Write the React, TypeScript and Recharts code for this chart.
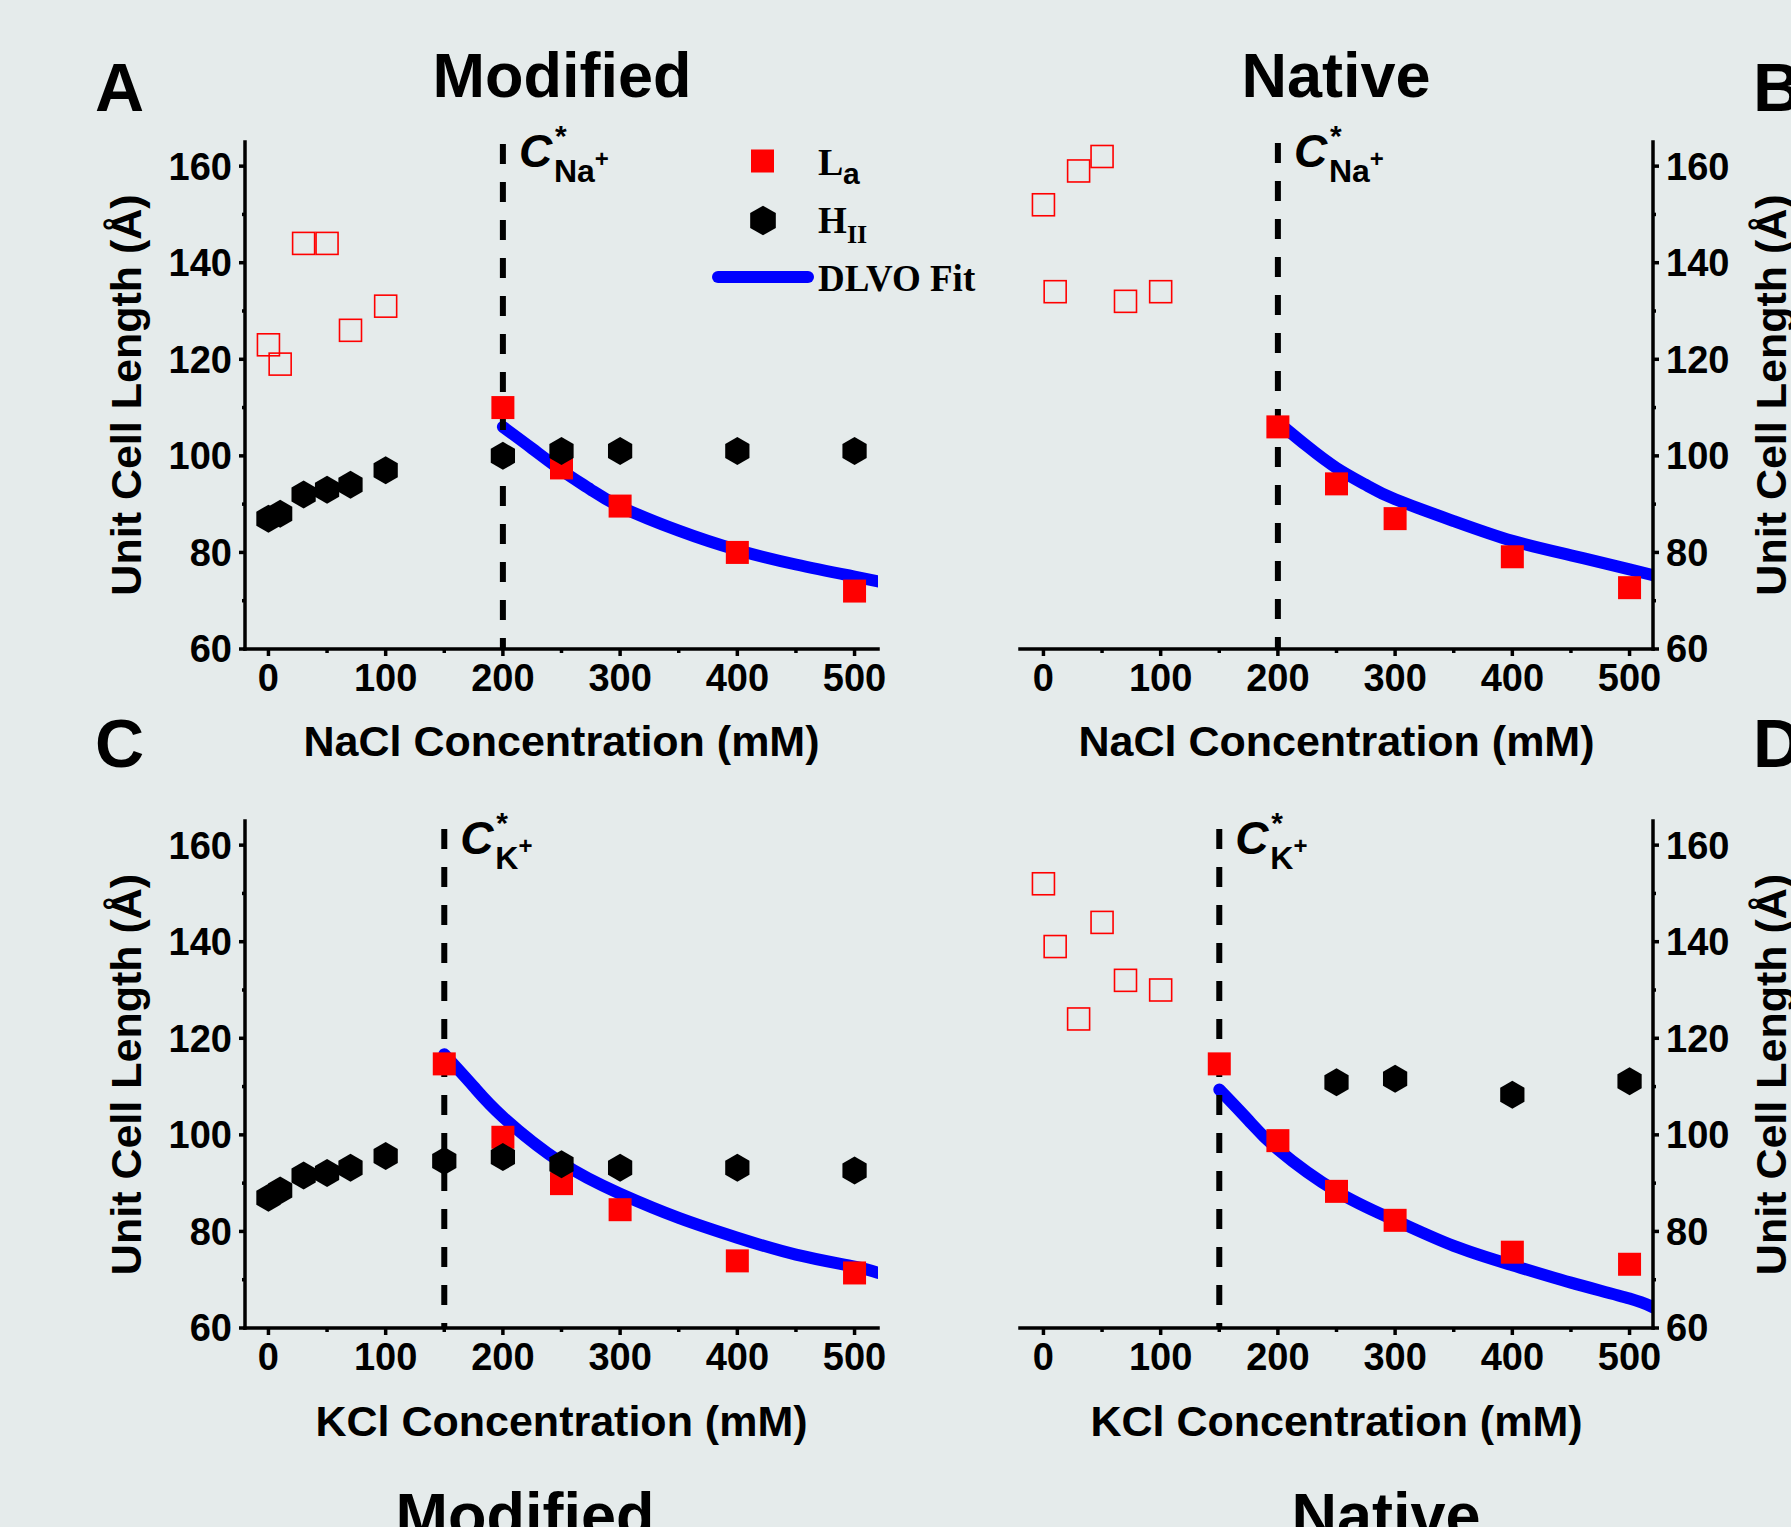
import React from "react";
import { ComposedChart, Scatter, Line, XAxis, YAxis, ReferenceLine } from "recharts";

// A: Modified, NaCl
const naclModOpenConc = [0, 10, 30, 50, 70, 100];
const naclModOpenLen = [123, 119, 144, 144, 126, 131];
const naclModLaConc = [200, 250, 300, 400, 500];
const naclModLaLen = [110, 97.5, 89.6, 80, 72];
const naclModHConc = [0, 10, 30, 50, 70, 100, 200, 250, 300, 400, 500];
const naclModHLen = [87, 88, 92, 93, 94, 97, 100, 101, 101, 101, 101];
const naclModFitConc = [200, 225, 250, 275, 300, 350, 400, 450, 500, 520];
const naclModFitLen = [106, 101.5, 97, 93, 89.5, 84.5, 80.5, 77.5, 75, 74];

// B: Native, NaCl
const naclNatOpenConc = [0, 10, 30, 50, 70, 100];
const naclNatOpenLen = [152, 134, 159, 162, 132, 134];
const naclNatLaConc = [200, 250, 300, 400, 500];
const naclNatLaLen = [106, 94.2, 87, 79.1, 72.7];
const naclNatFitConc = [200, 225, 250, 275, 300, 350, 400, 450, 500, 520];
const naclNatFitLen = [107, 102, 97.5, 94, 91, 86.5, 82.4, 79.4, 76.5, 75.3];

// C: Modified, KCl
const kclModLaConc = [150, 200, 250, 300, 400, 500];
const kclModLaLen = [114.7, 99.5, 89.9, 84.5, 73.9, 71.4];
const kclModHConc = [0, 10, 30, 50, 70, 100, 150, 200, 250, 300, 400, 500];
const kclModHLen = [87, 88.5, 91.6, 92.1, 93.2, 95.6, 94.6, 95.4, 93.9, 93.2, 93.2, 92.6];
const kclModFitConc = [150, 175, 200, 250, 300, 350, 400, 450, 500, 520];
const kclModFitLen = [116.7, 110, 103.7, 94.2, 87.8, 82.8, 78.7, 75.2, 72.7, 71.4];

// D: Native, KCl
const kclNatOpenConc = [0, 10, 30, 50, 70, 100];
const kclNatOpenLen = [152, 139, 124, 144, 132, 130];
const kclNatLaConc = [150, 200, 250, 300, 400, 500];
const kclNatLaLen = [114.7, 98.8, 88.3, 82.3, 75.7, 73.2];
const kclNatHConc = [250, 300, 400, 500];
const kclNatHLen = [110.9, 111.6, 108.3, 111.1];
const kclNatFitConc = [150, 175, 200, 250, 300, 350, 400, 450, 500, 520];
const kclNatFitLen = [109.4, 103, 97, 88.3, 82.3, 77, 73, 69.4, 66.1, 64.3];

const xTicks = [0, 50, 100, 150, 200, 250, 300, 350, 400, 450, 500];
const yTicks = [60, 70, 80, 90, 100, 110, 120, 130, 140, 150, 160];

const RED = "#ff0000";
const BLUE = "#0000ff";
const BG = "#e5ebeb";
const SANS = "'Liberation Sans', Arial, Helvetica, sans-serif";
const SERIF = "'Liberation Serif', 'Times New Roman', serif";

const zip = (xs: number[], ys: number[]) => xs.map((x, i) => ({ x, y: ys[i] }));

const FilledSquare = (p: any) => (
  <rect x={p.cx - 11.5} y={p.cy - 11.5} width={23} height={23} fill={RED} />
);
const OpenSquare = (p: any) => (
  <rect x={p.cx - 11} y={p.cy - 11} width={22} height={22} fill="none" stroke={RED} strokeWidth={1.6} />
);
const hexPoints = (cx: number, cy: number, r: number) =>
  [-90, -30, 30, 90, 150, 210]
    .map((a) => `${cx + r * Math.cos((a * Math.PI) / 180)},${cy + r * Math.sin((a * Math.PI) / 180)}`)
    .join(" ");
const Hexagon = (p: any) => <polygon points={hexPoints(p.cx, p.cy, 14)} fill="#000" />;

const XTick = (p: any) => {
  const v = p.payload.value;
  const major = v % 100 === 0;
  return (
    <g>
      <line x1={p.x} x2={p.x} y1={p.y} y2={p.y + (major ? 7 : 4)} stroke="#000" strokeWidth={3.5} />
      {major && (
        <text x={p.x} y={p.y + 15} dy="0.71em" textAnchor="middle" fontFamily={SANS} fontWeight="bold" fontSize={38} fill="#000">
          {v}
        </text>
      )}
    </g>
  );
};

const makeYTick = (side: "left" | "right") => (p: any) => {
  const v = p.payload.value;
  const major = v % 20 === 0;
  const s = side === "left" ? -1 : 1;
  return (
    <g>
      <line x1={p.x} x2={p.x + s * (major ? 6 : 3)} y1={p.y} y2={p.y} stroke="#000" strokeWidth={3.5} />
      {major && (
        <text
          x={p.x + s * 13}
          y={p.y}
          dy="0.355em"
          textAnchor={side === "left" ? "end" : "start"}
          fontFamily={SANS}
          fontWeight="bold"
          fontSize={38}
          fill="#000"
        >
          {v}
        </text>
      )}
    </g>
  );
};

const makeCStar = (ion: string, gap: number, d: number) => (p: any) => {
  const x = p.x1;
  const top = Math.min(p.y1, p.y2);
  const bottom = Math.max(p.y1, p.y2);
  return (
    <g>
      <line x1={x} x2={x} y1={top + gap} y2={bottom} stroke="#000" strokeWidth={6} strokeDasharray="20 18" />
      <text x={x + 16} y={top + 25 + d} fontFamily={SANS} fontWeight="bold" fontStyle="italic" fontSize={46} fill="#000">
        C
      </text>
      <text x={x + 52} y={top + 4 + d} fontFamily={SANS} fontWeight="bold" fontSize={30} fill="#000">
        *
      </text>
      <text x={x + 51} y={top + 40 + d} fontFamily={SANS} fontWeight="bold" fontSize={32} fill="#000">
        {ion}
        <tspan dy={-15} fontSize={24}>+</tspan>
      </text>
    </g>
  );
};

type PanelProps = {
  left: number;
  top: number;
  side: "left" | "right";
  open?: { x: number; y: number }[];
  la: { x: number; y: number }[];
  hex?: { x: number; y: number }[];
  fit: { x: number; y: number }[];
  cStar: number;
  ion: string;
  gap: number;
  d: number;
};

function Panel({ left, top, side, open, la, hex, fit, cStar, ion, gap, d }: PanelProps) {
  return (
    <div style={{ position: "absolute", left, top }}>
      <ComposedChart
        width={783}
        height={637}
        margin={{ top: 40, right: 30, bottom: 10, left: 30 }}
        style={{ overflow: "visible" }}
      >
        <XAxis
          dataKey="x"
          type="number"
          domain={[-20, 520]}
          ticks={xTicks}
          interval={0}
          height={80}
          tickSize={0}
          tickMargin={0}
          tickLine={false}
          tick={<XTick />}
          axisLine={{ stroke: "#000", strokeWidth: 3.5, strokeLinecap: "square" }}
          allowDataOverflow
        />
        <YAxis
          dataKey="y"
          type="number"
          orientation={side}
          domain={[60, 165]}
          ticks={yTicks}
          interval={0}
          width={90}
          tickSize={0}
          tickMargin={0}
          tickLine={false}
          tick={makeYTick(side)}
          axisLine={{ stroke: "#000", strokeWidth: 3.5, strokeLinecap: "square" }}
          allowDataOverflow
        />
        {open && <Scatter data={open} dataKey="y" shape={OpenSquare} isAnimationActive={false} />}
        <Scatter data={la} dataKey="y" shape={FilledSquare} isAnimationActive={false} />
        {hex && <Scatter data={hex} dataKey="y" shape={Hexagon} isAnimationActive={false} />}
        <Line
          data={fit}
          dataKey="y"
          type="natural"
          stroke={BLUE}
          strokeWidth={12}
          strokeLinecap="round"
          dot={false}
          activeDot={false}
          isAnimationActive={false}
        />
        <ReferenceLine x={cStar} shape={makeCStar(ion, gap, d)} />
      </ComposedChart>
    </div>
  );
}

function Overlay() {
  const bold = { fontFamily: SANS, fontWeight: "bold" as const, fill: "#000" };
  const serif = { fontFamily: SERIF, fontWeight: "bold" as const, fill: "#000" };
  return (
    <svg width={1791} height={1527} style={{ position: "absolute", left: 0, top: 0, pointerEvents: "none" }}>
      <text x={95} y={111} fontSize={68} {...bold}>A</text>
      <text x={1753} y={111} fontSize={68} {...bold}>B</text>
      <text x={95} y={767} fontSize={68} {...bold}>C</text>
      <text x={1753} y={767} fontSize={68} {...bold}>D</text>

      <text x={562} y={97} fontSize={63} textAnchor="middle" {...bold}>Modified</text>
      <text x={1336} y={97} fontSize={63} textAnchor="middle" {...bold}>Native</text>
      <text x={525} y={1537} fontSize={63} textAnchor="middle" {...bold}>Modified</text>
      <text x={1386} y={1537} fontSize={63} textAnchor="middle" {...bold}>Native</text>

      <text x={561.5} y={756} fontSize={43} textAnchor="middle" {...bold}>NaCl Concentration (mM)</text>
      <text x={1336.5} y={756} fontSize={43} textAnchor="middle" {...bold}>NaCl Concentration (mM)</text>
      <text x={561.5} y={1436} fontSize={43} textAnchor="middle" {...bold}>KCl Concentration (mM)</text>
      <text x={1336.5} y={1436} fontSize={43} textAnchor="middle" {...bold}>KCl Concentration (mM)</text>

      <text transform="translate(141,395) rotate(-90)" fontSize={43} textAnchor="middle" {...bold}>Unit Cell Length (Å)</text>
      <text transform="translate(141,1074.5) rotate(-90)" fontSize={43} textAnchor="middle" {...bold}>Unit Cell Length (Å)</text>
      <text transform="translate(1786,395) rotate(-90)" fontSize={43} textAnchor="middle" {...bold}>Unit Cell Length (Å)</text>
      <text transform="translate(1786,1074.5) rotate(-90)" fontSize={43} textAnchor="middle" {...bold}>Unit Cell Length (Å)</text>

      {/* legend of panel A */}
      <rect x={751} y={149.5} width={23} height={23} fill={RED} />
      <text x={818} y={175} fontSize={38} {...serif}>L</text>
      <text x={843} y={184} fontSize={30} {...bold}>a</text>
      <polygon points={hexPoints(763, 220.5, 14.8)} fill="#000" />
      <text x={818} y={233} fontSize={37} {...serif}>H</text>
      <text x={847} y={243} fontSize={26} {...serif}>II</text>
      <line x1={718} x2={808} y1={277} y2={277} stroke={BLUE} strokeWidth={12} strokeLinecap="round" />
      <text x={818} y={291} fontSize={37} {...serif}>DLVO Fit</text>
    </svg>
  );
}

export default function App() {
  return (
    <div
      style={{
        position: "absolute",
        left: 0,
        top: 0,
        width: 1791,
        height: 1527,
        overflow: "hidden",
        background: BG,
      }}
    >
      <Panel
        left={125}
        top={102}
        side="left"
        open={zip(naclModOpenConc, naclModOpenLen)}
        la={zip(naclModLaConc, naclModLaLen)}
        hex={zip(naclModHConc, naclModHLen)}
        fit={zip(naclModFitConc, naclModFitLen)}
        cStar={200}
        ion="Na"
        gap={2}
        d={0}
      />
      <Panel
        left={990}
        top={102}
        side="right"
        open={zip(naclNatOpenConc, naclNatOpenLen)}
        la={zip(naclNatLaConc, naclNatLaLen)}
        fit={zip(naclNatFitConc, naclNatFitLen)}
        cStar={200}
        ion="Na"
        gap={1}
        d={0}
      />
      <Panel
        left={125}
        top={781}
        side="left"
        la={zip(kclModLaConc, kclModLaLen)}
        hex={zip(kclModHConc, kclModHLen)}
        fit={zip(kclModFitConc, kclModFitLen)}
        cStar={150}
        ion="K"
        gap={8}
        d={8}
      />
      <Panel
        left={990}
        top={781}
        side="right"
        open={zip(kclNatOpenConc, kclNatOpenLen)}
        la={zip(kclNatLaConc, kclNatLaLen)}
        hex={zip(kclNatHConc, kclNatHLen)}
        fit={zip(kclNatFitConc, kclNatFitLen)}
        cStar={150}
        ion="K"
        gap={8}
        d={8}
      />
      <Overlay />
    </div>
  );
}
